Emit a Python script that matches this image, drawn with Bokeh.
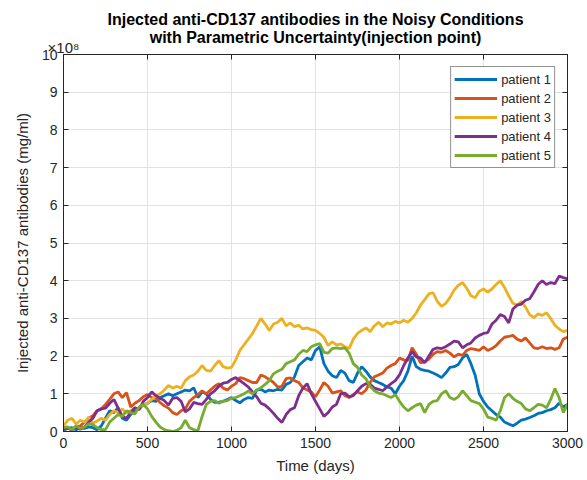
from bokeh.plotting import figure
from bokeh.models import (LinearAxis, Range1d, FixedTicker, CustomJSTickFormatter,
                          Legend, LegendItem, Title, ColumnDataSource)
from bokeh.embed import file_html
from bokeh.resources import INLINE

# Time axis (days), sampled every 25 days
days = list(range(0, 3001, 25))

# Antibody levels per patient, in units of 1e8 mg/ml
patient_1 = [0.05, 0.08, 0.10, 0.05, 0.10, 0.08, 0.12, 0.10, 0.05, 0.15,
             0.35, 0.55, 0.50, 0.63, 0.35, 0.30, 0.45, 0.55, 0.62, 0.70,
             0.75, 0.82, 0.80, 0.90, 0.95, 1.00, 0.95, 1.00, 1.05, 1.10,
             1.08, 1.16, 0.90, 1.05, 1.00, 0.85, 0.77, 0.78, 0.80, 0.85,
             0.90, 0.82, 0.76, 0.85, 0.90, 0.88, 1.10, 1.12, 1.05, 1.10,
             1.08, 1.12, 1.10, 1.25, 1.30, 1.45, 1.75, 1.85, 1.95, 1.90,
             2.15, 2.25, 1.80, 1.60, 1.48, 1.43, 1.62, 1.55, 1.35, 1.30,
             1.55, 1.72, 1.60, 1.45, 1.35, 1.30, 1.25, 1.18, 1.15, 1.00,
             1.20, 1.35, 1.60, 2.00, 1.72, 1.65, 1.62, 1.60, 1.55, 1.50,
             1.43, 1.55, 1.70, 1.72, 1.78, 1.95, 2.05, 1.80, 1.50, 1.00,
             0.80, 0.65, 0.55, 0.45, 0.38, 0.25, 0.20, 0.15, 0.22, 0.30,
             0.33, 0.37, 0.42, 0.48, 0.50, 0.55, 0.58, 0.63, 0.75, 0.65,
             0.72]
patient_2 = [0.08, 0.10, 0.05, 0.12, 0.15, 0.25, 0.35, 0.42, 0.55, 0.60,
             0.72, 0.85, 1.00, 1.05, 0.90, 1.03, 0.65, 0.75, 0.82, 0.92,
             0.98, 0.90, 0.88, 0.77, 0.68, 0.62, 0.50, 0.45, 0.55, 0.60,
             0.80, 0.90, 0.98, 1.08, 1.00, 1.10, 1.20, 1.27, 1.15, 1.10,
             1.20, 1.27, 1.43, 1.40, 1.35, 1.30, 1.30, 1.50, 1.45, 1.38,
             1.30, 1.18, 1.20, 1.40, 1.42, 1.35, 1.30, 1.16, 1.10, 1.05,
             0.92, 1.10, 1.30, 1.20, 1.02, 1.05, 1.08, 0.95, 0.90, 0.98,
             1.05, 1.00, 1.10, 1.30, 1.45, 1.50, 1.55, 1.68, 1.75, 1.80,
             1.95, 1.90, 1.88, 2.22, 2.05, 1.82, 1.85, 1.92, 2.05, 2.12,
             2.10, 2.15, 2.08, 1.98, 2.05, 2.02, 2.15, 2.20, 2.18, 2.15,
             2.25, 2.15, 2.20, 2.28, 2.40, 2.50, 2.52, 2.55, 2.45, 2.40,
             2.48, 2.35, 2.22, 2.20, 2.25, 2.20, 2.22, 2.18, 2.22, 2.45,
             2.50]
patient_3 = [0.15, 0.30, 0.35, 0.20, 0.30, 0.25, 0.38, 0.22, 0.28, 0.35,
             0.30, 0.45, 0.55, 0.50, 0.60, 0.48, 0.55, 0.62, 0.58, 0.70,
             0.75, 0.85, 0.95, 1.00, 1.10, 1.22, 1.15, 1.20, 1.15, 1.35,
             1.45, 1.50, 1.60, 1.75, 1.62, 1.60, 1.75, 1.88, 1.72, 1.68,
             1.70, 1.90, 2.15, 2.30, 2.45, 2.60, 2.80, 3.00, 2.85, 2.68,
             2.85, 2.90, 3.00, 2.80, 2.88, 2.78, 2.82, 2.72, 2.75, 2.70,
             2.68, 2.60, 2.50, 2.28, 2.38, 2.30, 2.32, 2.25, 2.20, 2.45,
             2.60, 2.68, 2.75, 2.65, 2.80, 2.90, 2.78, 2.88, 2.85, 2.92,
             2.88, 2.95, 2.90, 3.00, 3.15, 3.35, 3.50, 3.65, 3.68, 3.45,
             3.32, 3.40, 3.55, 3.75, 3.88, 3.95, 3.80, 3.60, 3.55, 3.72,
             3.78, 3.70, 3.78, 3.90, 4.00, 3.82, 3.60, 3.40, 3.35, 3.45,
             3.30, 3.10, 3.02, 3.12, 3.08, 3.15, 3.00, 2.82, 2.72, 2.65,
             2.68]
patient_4 = [0.05, 0.08, 0.05, 0.10, 0.06, 0.12, 0.25, 0.35, 0.55, 0.60,
             0.62, 0.75, 0.85, 0.62, 0.40, 0.35, 0.50, 0.63, 0.58, 0.80,
             0.90, 1.05, 0.95, 0.88, 0.82, 0.70, 0.88, 0.90, 0.80, 0.52,
             0.60, 0.77, 0.74, 0.72, 0.85, 1.00, 1.08, 1.20, 1.28, 1.30,
             1.38, 1.43, 1.35, 1.27, 1.18, 1.05, 0.92, 0.75, 0.70, 0.60,
             0.48, 0.35, 0.24, 0.45, 0.58, 0.63, 0.95, 1.15, 1.27, 1.00,
             0.80, 0.60, 0.40, 0.50, 0.65, 0.72, 1.00, 1.02, 0.92, 0.95,
             1.08, 1.20, 1.27, 1.25, 1.15, 1.12, 1.08, 1.18, 1.27, 1.35,
             1.50, 1.75, 1.95, 2.12, 1.98, 1.95, 1.82, 2.00, 2.18, 2.22,
             2.20, 2.25, 2.32, 2.40, 2.38, 2.22, 2.30, 2.35, 2.48, 2.55,
             2.60, 2.62, 2.85, 2.95, 3.10, 3.05, 2.88, 3.25, 3.35, 3.38,
             3.48, 3.52, 3.70, 3.90, 4.00, 3.90, 3.95, 3.92, 4.12, 4.08,
             4.05]
patient_5 = [0.10, 0.12, 0.05, 0.15, 0.08, 0.12, 0.20, 0.18, 0.10, 0.05,
             0.05, 0.25, 0.35, 0.45, 0.40, 0.55, 0.50, 0.47, 0.65, 0.72,
             0.60, 0.40, 0.25, 0.12, 0.05, 0.02, 0.00, 0.03, 0.10, 0.30,
             0.10, 0.05, 0.02, 0.40, 0.72, 0.80, 0.82, 0.75, 0.80, 0.82,
             0.88, 0.90, 0.95, 1.00, 1.08, 1.00, 1.10, 1.16, 1.25, 1.35,
             1.53, 1.60, 1.65, 1.80, 1.85, 1.90, 2.05, 2.15, 2.12, 2.25,
             2.30, 2.33, 2.10, 2.08, 2.20, 2.22, 2.20, 2.22, 2.08, 1.80,
             1.70, 1.50, 1.40, 1.20, 1.08, 1.02, 1.00, 0.95, 0.90, 0.98,
             0.80, 0.65, 0.55, 0.63, 0.70, 0.74, 0.50, 0.72, 0.80, 0.82,
             1.00, 1.08, 0.90, 0.85, 0.92, 1.08, 0.95, 0.82, 0.78, 0.74,
             0.60, 0.38, 0.35, 0.30, 0.55, 0.90, 1.00, 0.88, 0.80, 0.74,
             0.60, 0.55, 0.63, 0.72, 0.70, 0.63, 0.85, 1.14, 0.90, 0.50,
             0.72]

series_names = ["patient 1", "patient 2", "patient 3", "patient 4", "patient 5"]
series_values = [patient_1, patient_2, patient_3, patient_4, patient_5]
series_colors = ["#0072BD", "#D95319", "#EDB120", "#7E2F8E", "#77AC30"]

x_ticks = [0, 500, 1000, 1500, 2000, 2500, 3000]
y_ticks = [0, 1, 2, 3, 4, 5, 6, 7, 8, 9, 10]
SCALE = 1e8
EXPONENT_TEXT = "×10⁸"
TITLE_MAIN = "Injected anti-CD137 antibodies in the Noisy Conditions"
TITLE_SUB = "with Parametric Uncertainty(injection point)"

FONT = "Liberation Sans"
INK = "#262626"

p = figure(width=587, height=480, output_backend="svg", toolbar_location=None,
           title=None,
           x_range=Range1d(0, 3000), y_range=Range1d(0, 10 * SCALE),
           min_border_left=63, min_border_right=20,
           min_border_top=54, min_border_bottom=49,
           background_fill_color="white", border_fill_color="white")

p.outline_line_color = INK
p.outline_line_width = 1

x_ticker = FixedTicker(ticks=x_ticks)
y_ticker = FixedTicker(ticks=[t * SCALE for t in y_ticks])


def style_axis(ax):
    ax.axis_line_color = INK
    ax.major_tick_line_color = INK
    ax.major_tick_in = 5
    ax.major_tick_out = 0
    ax.minor_tick_line_color = None
    ax.major_label_text_font = FONT
    ax.major_label_text_font_size = "14px"
    ax.major_label_text_color = INK
    ax.axis_label_text_font = FONT
    ax.axis_label_text_font_size = "15px"
    ax.axis_label_text_font_style = "normal"
    ax.axis_label_text_color = INK


xa = p.xaxis[0]
xa.ticker = x_ticker
xa.axis_label = "Time (days)"
xa.axis_label_standoff = 6
xa.major_label_standoff = 6
style_axis(xa)

ya = p.yaxis[0]
ya.ticker = y_ticker
ya.formatter = CustomJSTickFormatter(code="return (tick / 1e8).toFixed(0);")
ya.axis_label = "Injected anti-CD137 antibodies (mg/ml)"
ya.axis_label_standoff = 8
ya.major_label_standoff = 6
style_axis(ya)

# box ticks on the top edge; the first tick carries the y exponent marker
top_ax = LinearAxis(ticker=x_ticker, major_label_standoff=-1,
                    formatter=CustomJSTickFormatter(
                        args=dict(exp=EXPONENT_TEXT),
                        code="return tick == 0 ? exp : '';"))
style_axis(top_ax)
top_ax.major_label_text_font_size = "15px"
top_ax.major_label_text_align = "left"

# box ticks on the right edge
right_ax = LinearAxis(ticker=y_ticker, major_label_standoff=0,
                      formatter=CustomJSTickFormatter(code="return '';"))
style_axis(right_ax)
p.add_layout(top_ax, "above")
p.add_layout(right_ax, "right")

p.xgrid.ticker = x_ticker
p.ygrid.ticker = y_ticker
p.xgrid.grid_line_color = "#e2e2e2"
p.ygrid.grid_line_color = "#e2e2e2"

items = []
for name, vals, color in zip(series_names, series_values, series_colors):
    src = ColumnDataSource(dict(day=days, level=[v * SCALE for v in vals]))
    r = p.line("day", "level", source=src, line_color=color, line_width=2.8)
    items.append(LegendItem(label=name, renderers=[r]))

legend = Legend(items=items, location="top_right",
                border_line_color=INK, border_line_width=1,
                background_fill_color="white", background_fill_alpha=1,
                label_text_font=FONT, label_text_font_size="13px",
                label_text_color=INK,
                glyph_width=43, glyph_height=18, label_height=18,
                label_standoff=4, spacing=1, padding=3, margin=12)
p.add_layout(legend)

# title lines; the negative standoff lets the second line sit beside the exponent marker
sub = Title(text=TITLE_SUB, align="center",
            text_font=FONT, text_font_size="16px", text_font_style="bold",
            text_color="#000000", standoff=-20)
main = Title(text=TITLE_MAIN, align="center",
             text_font=FONT, text_font_size="16px", text_font_style="bold",
             text_color="#000000", standoff=16)
p.add_layout(sub, "above")
p.add_layout(main, "above")

open("out.html", "w").write(file_html(p, INLINE))
